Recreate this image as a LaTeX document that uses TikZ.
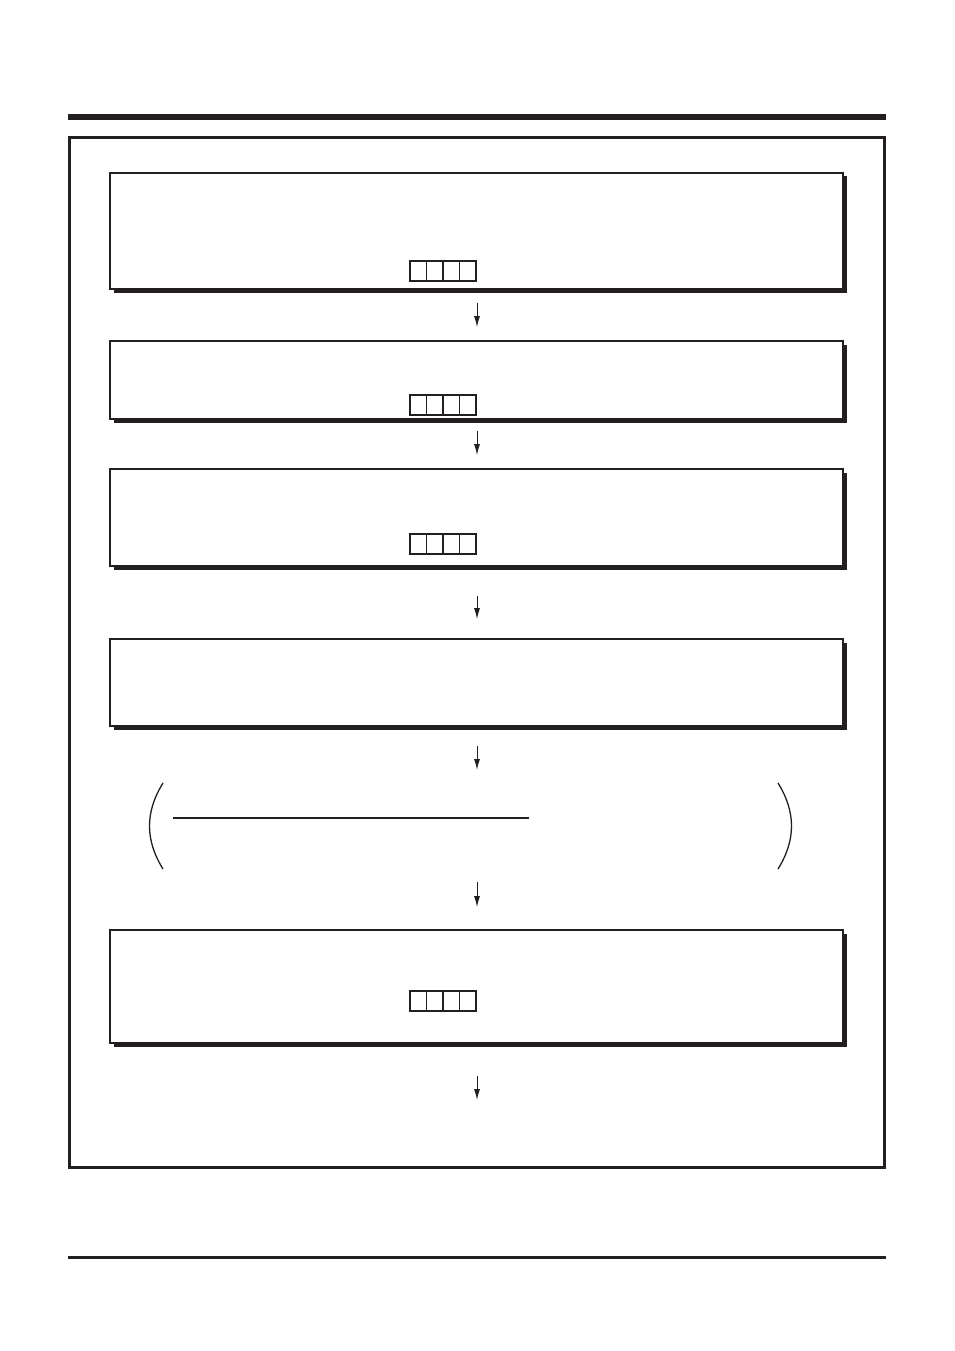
\documentclass[tikz,border=0pt]{standalone}
\usepackage{tikz}
\usetikzlibrary{positioning, arrows.meta, shadows}

\definecolor{ink}{HTML}{231F20}

\begin{document}
\begin{tikzpicture}[x=1pt, y=-1pt, ink,
    stepbox/.style={draw=ink, fill=white, line width=1.8pt, inner sep=0pt,
      minimum width=733pt,
      drop shadow={shadow xshift=3.5pt, shadow yshift=-3.5pt, fill=ink, opacity=1}},
    cell/.style={draw=ink, line width=1.5pt, inner sep=0pt,
      minimum width=16.5pt, minimum height=20pt},
    flow/.style={line width=1pt, -{Latex[length=11pt, width=6pt]}},
    paren/.style={draw=ink, line width=1.3pt}]
        \useasboundingbox (0,0) rectangle (954,1351);

        % rules and frame
        \draw[line width=6pt] (68,117) -- (886,117);
        \draw[line width=3.5pt] (68,1257.5) -- (886,1257.5);
        \draw[line width=3pt] (69.5,138) rectangle (884.5,1167);

        % boxes
        \node[stepbox, minimum height=116pt] (box1) at (476.5,231)   {};
        \node[stepbox, minimum height=78pt]  (box2) at (476.5,380)   {};
        \node[stepbox, minimum height=97pt]  (box3) at (476.5,517.5) {};
        \node[stepbox, minimum height=87pt]  (box4) at (476.5,682.5) {};
        \node[stepbox, minimum height=113pt] (box6) at (476.5,986.5) {};

        % code cells
        \foreach \b/\y in {1/271, 2/405, 3/544, 6/1001}
          \foreach \i in {0,...,3}
            \node[cell] (cell\b\i) at (418.25+\i*16.5, \y) {};

        % bracketed part
        \draw[paren] (163,783) .. controls (145,812) and (145,840) .. (163,869);
        \draw[paren] (778,783) .. controls (796,812) and (796,840) .. (778,869);
        \draw[line width=1.2pt] (173,818) -- (529,818);

        \coordinate (ar4e) at (477,770);
        \coordinate (ar5s) at (477,882);
        \coordinate (ar6e) at (477,1100);

        \path[flow]
          ([xshift=0.5pt]box1.south) edge [shorten <=13pt, shorten >=13pt] ([xshift=0.5pt]box2.north)
          ([xshift=0.5pt]box2.south) edge [shorten <=11pt, shorten >=13pt] ([xshift=0.5pt]box3.north)
          ([xshift=0.5pt]box3.south) edge [shorten <=29pt, shorten >=19pt] ([xshift=0.5pt]box4.north)
          ([xshift=0.5pt]box4.south) edge [shorten <=19pt] (ar4e)
          (ar5s)                     edge [shorten >=22pt] ([xshift=0.5pt]box6.north)
          ([xshift=0.5pt]box6.south) edge [shorten <=32pt] (ar6e);

      \end{tikzpicture}
\end{document}
